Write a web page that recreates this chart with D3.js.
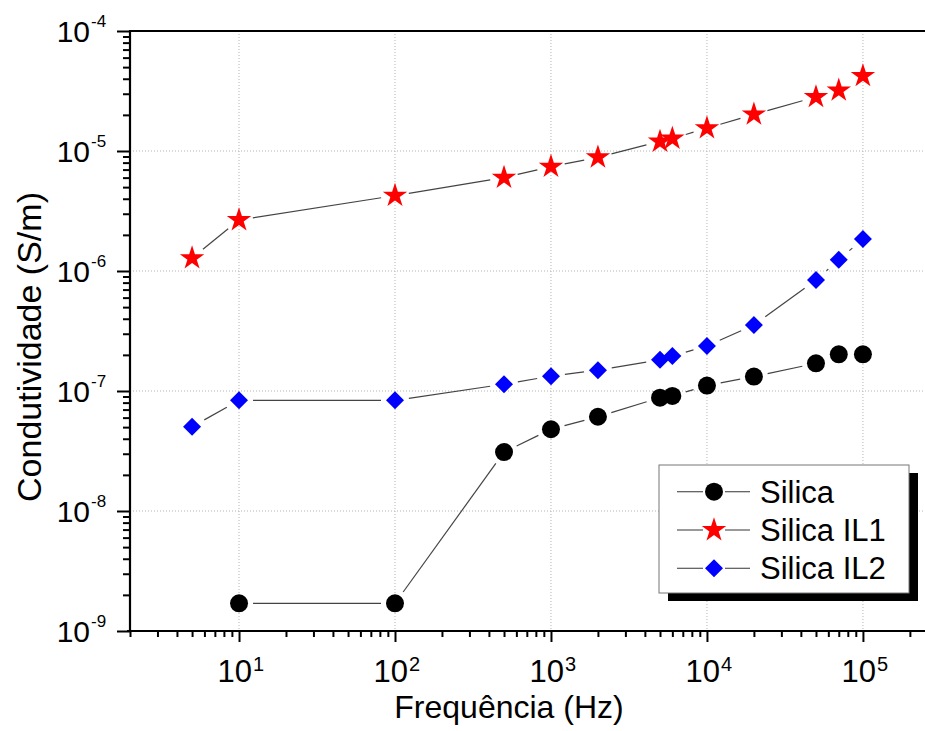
<!DOCTYPE html>
<html><head><meta charset="utf-8">
<script src="https://cdn.jsdelivr.net/npm/d3@7"></script>
<style>body{margin:0;background:#fff}svg{display:block;font-family:"Liberation Sans",Arial,sans-serif}</style>
</head><body>
<svg id="c" width="925" height="731"></svg>
<script>
const freq = [5, 10, 100, 500, 1000, 2000, 5000, 6000, 10000, 20000, 50000, 70000, 100000];
const silicaFreq = [10, 100, 500, 1000, 2000, 5000, 6000, 10000, 20000, 50000, 70000, 100000];
const silica = [1.70e-9, 1.70e-9, 3.1e-8, 4.8e-8, 6.1e-8, 8.8e-8, 9.1e-8, 1.11e-7, 1.32e-7, 1.70e-7, 2.02e-7, 2.02e-7];
const silicaIL1 = [1.28e-6, 2.66e-6, 4.25e-6, 6.0e-6, 7.4e-6, 8.86e-6, 1.20e-5, 1.27e-5, 1.55e-5, 2.02e-5, 2.82e-5, 3.2e-5, 4.22e-5];
const silicaIL2 = [5.04e-8, 8.36e-8, 8.36e-8, 1.14e-7, 1.33e-7, 1.49e-7, 1.82e-7, 1.96e-7, 2.37e-7, 3.55e-7, 8.41e-7, 1.24e-6, 1.85e-6];
const seriesNames = ["Silica", "Silica IL1", "Silica IL2"];
const xTickExp = [1, 2, 3, 4, 5];
const yTickExp = [-9, -8, -7, -6, -5, -4];

const svg = d3.select("#c");
const L = 130, R = 925, T = 31, B = 631;
const x = d3.scaleLog().domain([2, 2.5e5]).range([L, R]);
const y = d3.scaleLog().domain([1e-9, 1e-4]).range([B, T]);

// grid
const g = svg.append("g");
xTickExp.forEach(e => {
  g.append("line").attr("x1", x(10 ** e)).attr("x2", x(10 ** e)).attr("y1", T).attr("y2", B)
    .attr("stroke", "#b4b4b4").attr("stroke-width", 1).attr("stroke-dasharray", "1,2");
});
yTickExp.forEach(e => {
  g.append("line").attr("x1", L).attr("x2", R).attr("y1", y(10 ** e)).attr("y2", y(10 ** e))
    .attr("stroke", "#b4b4b4").attr("stroke-width", 1).attr("stroke-dasharray", "1,2");
});

// axes
const xMinor = [];
for (let e = 0; e <= 5; e++) for (let m = 2; m <= 9; m++) { const v = m * 10 ** e; if (v >= 2 && v <= 2.5e5) xMinor.push(v); }
const yMinor = [];
for (let e = -9; e < -4; e++) for (let m = 2; m <= 9; m++) yMinor.push(m * 10 ** e);

const ax = svg.append("g").attr("transform", `translate(0,${B})`)
  .call(d3.axisBottom(x).tickValues(xMinor).tickSize(6).tickFormat(""));
ax.select(".domain").remove();
ax.selectAll("line").attr("stroke", "#000").attr("stroke-width", 2);
const axM = svg.append("g").attr("transform", `translate(0,${B})`)
  .call(d3.axisBottom(x).tickValues(xTickExp.map(e => 10 ** e)).tickSize(11).tickFormat(""));
axM.select(".domain").remove();
axM.selectAll("line").attr("stroke", "#000").attr("stroke-width", 2);

const ay = svg.append("g").attr("transform", `translate(${L},0)`)
  .call(d3.axisLeft(y).tickValues(yMinor).tickSize(7).tickFormat(""));
ay.select(".domain").remove();
ay.selectAll("line").attr("stroke", "#000").attr("stroke-width", 2);
const ayM = svg.append("g").attr("transform", `translate(${L},0)`)
  .call(d3.axisLeft(y).tickValues(yTickExp.map(e => 10 ** e)).tickSize(13).tickFormat(""));
ayM.select(".domain").remove();
ayM.selectAll("line").attr("stroke", "#000").attr("stroke-width", 2);

// frame lines
svg.append("line").attr("x1", L - 3).attr("x2", R).attr("y1", B).attr("y2", B).attr("stroke", "#000").attr("stroke-width", 2.2);
svg.append("line").attr("x1", L).attr("x2", R).attr("y1", T).attr("y2", T).attr("stroke", "#000").attr("stroke-width", 2.2);
svg.append("line").attr("x1", L).attr("x2", L).attr("y1", T - 1).attr("y2", B + 1).attr("stroke", "#000").attr("stroke-width", 2.2);

// tick labels
xTickExp.forEach(e => {
  const px = x(10 ** e);
  svg.append("text").attr("x", px + 13).attr("y", 682).attr("text-anchor", "end")
    .attr("font-size", 31).text("10");
  svg.append("text").attr("x", px + 14).attr("y", 671).attr("font-size", 20).text(e);
});
yTickExp.forEach(e => {
  const py = y(10 ** e);
  svg.append("text").attr("x", 90).attr("y", py + 11).attr("text-anchor", "end")
    .attr("font-size", 30).text("10");
  svg.append("text").attr("x", 91).attr("y", py - 4).attr("font-size", 17).text(String(e).replace("\u2212", "-"));
});

// axis titles
svg.append("text").attr("x", 509).attr("y", 718).attr("text-anchor", "middle")
  .attr("font-size", 32).text("Frequência (Hz)");
svg.append("text").attr("transform", "translate(41,347) rotate(-90)").attr("text-anchor", "middle")
  .attr("font-size", 34).text("Condutividade (S/m)");

// series
const series = [
  { name: seriesNames[0], xs: silicaFreq, ys: silica, color: "#000000", sym: d3.symbolCircle, size: 254, rot: 0 },
  { name: seriesNames[1], xs: freq, ys: silicaIL1, color: "#ff0000", sym: d3.symbolStar, size: 185, rot: 0 },
  { name: seriesNames[2], xs: freq, ys: silicaIL2, color: "#0000ff", sym: d3.symbolSquare, size: 162, rot: 45 }
];
const gap = 14;
series.forEach(s => {
  const pts = s.xs.map((f, i) => [x(f), y(s.ys[i])]);
  for (let i = 0; i < pts.length - 1; i++) {
    const [x1, y1] = pts[i], [x2, y2] = pts[i + 1];
    const d = Math.hypot(x2 - x1, y2 - y1);
    if (d <= 2 * gap + 1) continue;
    const ux = (x2 - x1) / d, uy = (y2 - y1) / d;
    svg.append("line").attr("x1", x1 + ux * gap).attr("y1", y1 + uy * gap)
      .attr("x2", x2 - ux * gap).attr("y2", y2 - uy * gap)
      .attr("stroke", "#444").attr("stroke-width", 1.2);
  }
  const sym = d3.symbol().type(s.sym).size(s.size);
  svg.append("g").selectAll("path").data(pts).join("path")
    .attr("d", sym).attr("fill", s.color)
    .attr("transform", p => `translate(${p[0]},${p[1]}) rotate(${s.rot})`);
});

// legend
const lg = svg.append("g");
lg.append("rect").attr("x", 668).attr("y", 473).attr("width", 250).attr("height", 128).attr("fill", "#000");
lg.append("rect").attr("x", 659).attr("y", 465).attr("width", 250).attr("height", 128)
  .attr("fill", "#fff").attr("stroke", "#777").attr("stroke-width", 1);
series.forEach((s, i) => {
  const ly = 491.7 + i * 38.3;
  lg.append("line").attr("x1", 677).attr("x2", 703).attr("y1", ly).attr("y2", ly).attr("stroke", "#555").attr("stroke-width", 1.2);
  lg.append("line").attr("x1", 725).attr("x2", 750).attr("y1", ly).attr("y2", ly).attr("stroke", "#555").attr("stroke-width", 1.2);
  lg.append("path").attr("d", d3.symbol().type(s.sym).size(s.size)())
    .attr("fill", s.color).attr("transform", `translate(714,${ly}) rotate(${s.rot})`);
  lg.append("text").attr("x", 760).attr("y", ly + 11).attr("font-size", 31).text(s.name);
});
</script>
</body></html>
